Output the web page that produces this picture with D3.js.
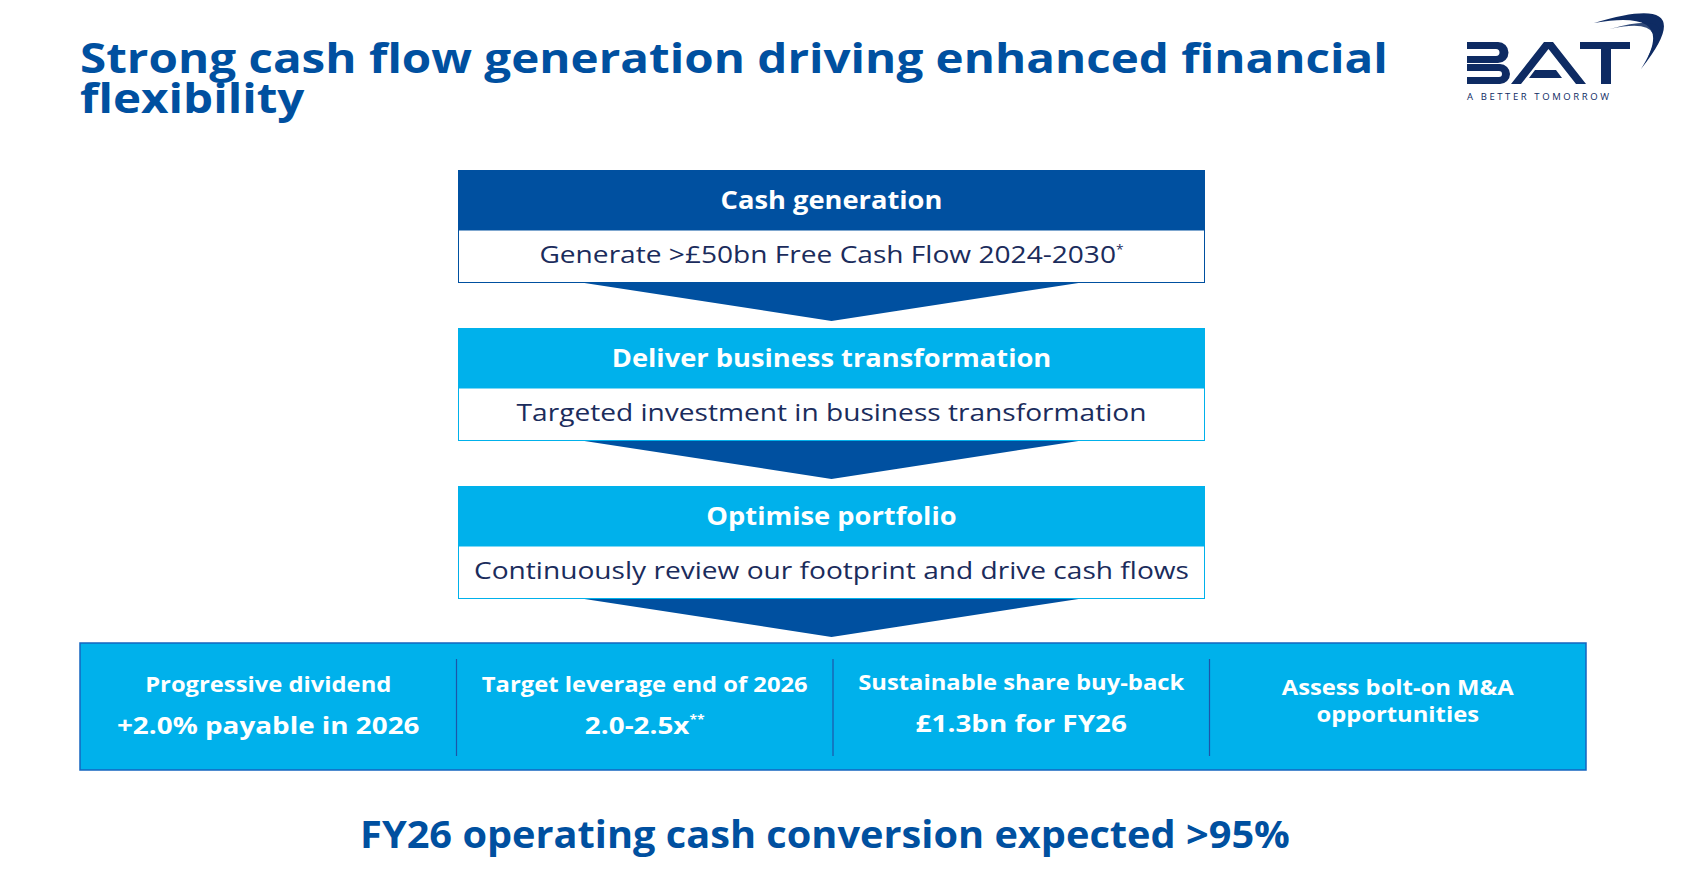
<!DOCTYPE html>
<html>
<head>
<meta charset="utf-8">
<script src="https://cdn.jsdelivr.net/npm/d3@7"></script>
<style>
  html, body { margin: 0; padding: 0; background: #fff; }
  svg { display: block; }
  text { font-family: "Open Sans", "Noto Sans", sans-serif; }
</style>
</head>
<body>
<div id="chart"></div>
<script>
// slide content
const titleLines = ["Strong cash flow generation driving enhanced financial", "flexibility"];
const stepTitles = ["Cash generation", "Deliver business transformation", "Optimise portfolio"];
const stepTexts = ["Generate >£50bn Free Cash Flow 2024-2030", "Targeted investment in business transformation", "Continuously review our footprint and drive cash flows"];
const stepNotes = ["*", "", ""];
const pillarHeads = [["Progressive dividend"], ["Target leverage end of 2026"], ["Sustainable share buy-back"], ["Assess bolt-on M&A", "opportunities"]];
const pillarValues = ["+2.0% payable in 2026", "2.0-2.5x", "£1.3bn for FY26", ""];
const pillarNotes = ["", "**", "", ""];
const footerText = "FY26 operating cash conversion expected >95%";

// colours
const darkBlue = "#0050a0", lightBlue = "#00b1eb", navy = "#1b2c5c", logoNavy = "#0e2b63";

const width = 1689, height = 884;
const svg = d3.select("#chart").append("svg").attr("width", width).attr("height", height);

// stretch text horizontally round its anchor (source font is wider than what we have)
function stretch(sel, sx) {
    sel.each(function () {
        const x = +this.getAttribute("x") || 0;
        this.setAttribute("transform", `translate(${x},0) scale(${sx},1) translate(${-x},0)`);
    });
}

//title (one text, two lines)
const title = svg.append("text")
    .attr("x", 80).attr("y", 73)
    .attr("fill", darkBlue).attr("font-size", 41).attr("font-weight", 700);
const titleSpans = title.selectAll("tspan").data(titleLines).enter().append("tspan")
    .attr("x", 80).attr("dy", (d, i) => i === 0 ? 0 : 40)
    .text(d => d);
const sBold = 1308 / titleSpans.node().getComputedTextLength();
stretch(title, sBold);

//logo
const logo = svg.append("g").attr("fill", logoNavy);
logo.append("path").attr("d", "M1467,42 H1498 A10.5,10.5 0 0 1 1498,63 H1467 V56 H1496 A3.5,3.5 0 0 0 1496,49 H1467 Z");
logo.append("path").attr("d", "M1467,64 H1500 A10,10 0 0 1 1500,84 H1467 V77 H1499 A3,3 0 0 0 1499,71 H1467 Z");
logo.append("path").attr("d", "M1511,84 L1544,42 L1553,42 L1586,84 L1576,84 L1548.5,49 L1521,84 Z");
logo.append("path").attr("d", "M1535,70 L1556,70 L1562,78 L1529,78 Z");
logo.append("path").attr("d", "M1580,42 H1630 V49 H1611 V84 H1601 V49 H1580 Z");
logo.append("path").attr("d", "M1594,23 Q1704,-10 1641,69 Q1680,8 1594,23 Z");
logo.append("path").attr("d", "M1610,29 Q1684,8 1648,57 Q1670,16 1610,29 Z").attr("opacity", 0.85);
logo.append("text").attr("x", 1467).attr("y", 100)
    .attr("font-size", 9.5).attr("textLength", 142).attr("lengthAdjust", "spacing")
    .text("A BETTER TOMORROW");

//steps
const boxLeft = 458, boxRight = 1205, boxMid = (boxLeft + boxRight) / 2;
const headH = 60, bodyH = 53, arrowH = 38, arrowHalf = 247;
const yStep = d3.scaleLinear().domain([0, stepTitles.length - 1]).range([170, 486]);

const step = svg.selectAll(".step").data(stepTitles).enter().append("g").attr("class", "step");

step.append("path")
    .attr("d", (d, i) => {
        const y0 = yStep(i) + headH + bodyH;
        return `M${boxMid - arrowHalf},${y0} L${boxMid + arrowHalf},${y0} L${boxMid},${y0 + arrowH} Z`;
    })
    .attr("fill", darkBlue);

step.append("rect")
    .attr("x", boxLeft + 0.5).attr("y", (d, i) => yStep(i) + headH)
    .attr("width", boxRight - boxLeft - 1).attr("height", bodyH - 0.5)
    .attr("fill", "#fff")
    .attr("stroke", (d, i) => i === 0 ? darkBlue : lightBlue).attr("stroke-width", 1);

step.append("rect")
    .attr("x", boxLeft).attr("y", (d, i) => yStep(i))
    .attr("width", boxRight - boxLeft).attr("height", headH)
    .attr("fill", (d, i) => i === 0 ? darkBlue : lightBlue);

const stepHead = step.append("text")
    .attr("x", boxMid).attr("y", (d, i) => yStep(i) + 39.5)
    .attr("text-anchor", "middle").attr("fill", "#fff")
    .attr("font-size", 25).attr("font-weight", 700)
    .text(d => d);
stretch(stepHead, sBold * 0.94);

const stepBody = step.append("text")
    .attr("x", boxMid).attr("y", (d, i) => yStep(i) + headH + 33)
    .attr("text-anchor", "middle").attr("fill", navy)
    .attr("font-size", 24.5);
stepBody.append("tspan").text((d, i) => stepTexts[i]);
stepBody.append("tspan").attr("dy", -9).attr("font-size", 12).text((d, i) => stepNotes[i]);
const sReg = 715 / stepBody.nodes()[2].getComputedTextLength();
stretch(stepBody, sReg);

//pillars band
const band = {x0: 80, x1: 1586, y0: 643, y1: 770};
const xCol = d3.scaleBand().domain(d3.range(pillarHeads.length)).range([band.x0, band.x1]);

svg.append("rect")
    .attr("x", band.x0).attr("y", band.y0)
    .attr("width", band.x1 - band.x0).attr("height", band.y1 - band.y0)
    .attr("fill", lightBlue).attr("stroke", "#1565c0").attr("stroke-width", 1.5);

svg.selectAll(".divider").data(d3.range(1, pillarHeads.length)).enter().append("line")
    .attr("class", "divider")
    .attr("x1", d => xCol(d)).attr("x2", d => xCol(d))
    .attr("y1", 659).attr("y2", 756)
    .attr("stroke", "#1d56a8").attr("stroke-width", 1.2);

const pillar = svg.selectAll(".pillar").data(pillarHeads).enter().append("g").attr("class", "pillar");

const heads = pillar.selectAll(".head").data((d, i) => d.map(t => ({t, i, n: d.length}))).enter().append("text")
    .attr("class", "head")
    .attr("x", d => xCol(d.i) + xCol.bandwidth() / 2)
    .attr("y", (d, j) => d.n > 1 ? 695 + j * 27 : (d.i === 2 ? 690 : 692))
    .attr("text-anchor", "middle").attr("fill", "#fff")
    .attr("font-size", 20.5).attr("font-weight", 700)
    .text(d => d.t);
stretch(heads, sBold);

const vals = pillar.append("text")
    .attr("x", (d, i) => xCol(i) + xCol.bandwidth() / 2).attr("y", (d, i) => i === 2 ? 732 : 734)
    .attr("text-anchor", "middle").attr("fill", "#fff")
    .attr("font-size", 24).attr("font-weight", 700);
vals.append("tspan").text((d, i) => pillarValues[i]);
vals.append("tspan").attr("dy", -10).attr("font-size", 12).text((d, i) => pillarNotes[i]);
stretch(vals, sBold);

//footer
const footer = svg.append("text")
    .attr("x", 825).attr("y", 848)
    .attr("text-anchor", "middle").attr("fill", darkBlue)
    .attr("font-size", 37).attr("font-weight", 700)
    .text(footerText);
stretch(footer, sBold * 0.925);
</script>
</body>
</html>
